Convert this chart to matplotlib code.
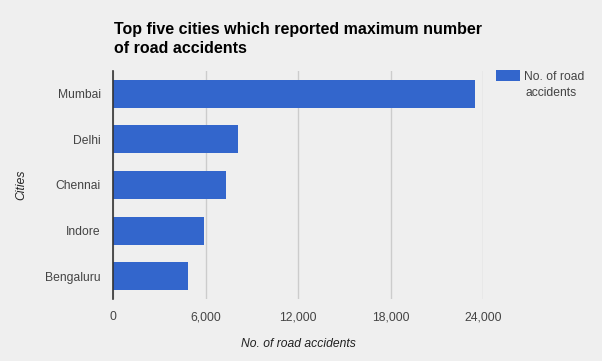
import matplotlib
matplotlib.use("Agg")
import matplotlib.pyplot as plt
from matplotlib.ticker import FuncFormatter

plt.rcParams['font.family'] = ['Liberation Sans', 'DejaVu Sans']

cities = ['Mumbai', 'Delhi', 'Chennai', 'Indore', 'Bengaluru']
accidents = [23450, 8090, 7310, 5880, 4840]
x_ticks = [0, 6000, 12000, 18000, 24000]

BG = '#efefef'
BAR = '#3366cc'
TXT = '#444444'
FS = 8.7

fig = plt.figure(figsize=(6.02, 3.61), dpi=100, facecolor=BG)
ax_w, ax_h = 370, 228
ax = fig.add_axes([113.3 / 602, 1 - 299 / 361, ax_w / 602, ax_h / 361])
ax.set_facecolor(BG)

ypos = list(range(len(cities)))
ax.barh(ypos, accidents, height=0.61, color=BAR, zorder=3, label='No. of road')
ax.set_yticks(ypos)
ax.set_yticklabels(cities)
ax.set_ylim(len(cities) - 0.5, -0.5)

ax.set_xlim(0, 24000)
ax.set_xticks(x_ticks)
ax.xaxis.set_major_formatter(FuncFormatter(lambda v, p: f'{int(v):,}'))
ax.grid(axis='x', color='#cccccc', linewidth=1, zorder=0)
ax.tick_params(axis='both', length=0, labelsize=FS, colors=TXT)
ax.tick_params(axis='x', pad=9)
ax.tick_params(axis='y', pad=9)

for s in ['top', 'right', 'bottom']:
    ax.spines[s].set_visible(False)
ax.spines['left'].set_color('#333333')
ax.spines['left'].set_linewidth(1.2)
ax.spines['left'].set_zorder(4)

ax.set_xlabel('No. of road accidents', fontsize=FS, style='italic', color='#222222')
ax.xaxis.set_label_coords(0.5, -(344 - 299) / ax_h)
ax.xaxis.label.set_va('center')
ax.set_ylabel('Cities', fontsize=FS, style='italic', color='#222222')
ax.yaxis.set_label_coords(-(113.3 - 21) / ax_w, 0.5)
ax.yaxis.label.set_va('center')

fig.text(114 / 602, 1 - 22 / 361, 'Top five cities which reported maximum number\nof road accidents',
         fontsize=11.5, fontweight='bold', color='#000000', ha='left', va='top', linespacing=1.35)

# legend: swatch + first line, second line wrapped below like the original
leg = ax.legend(loc='upper left', bbox_to_anchor=(496 / 602, 1 - 70 / 361), bbox_transform=fig.transFigure,
                frameon=False, fontsize=FS, handlelength=2.0, handleheight=1.0, handletextpad=0.35,
                borderpad=0, borderaxespad=0)
for t in leg.get_texts():
    t.set_color(TXT)
fig.text(525 / 602, 1 - 93 / 361, 'accidents', fontsize=FS, color=TXT, ha='left', va='center')

fig.savefig('out.png', dpi=100, facecolor=BG)
